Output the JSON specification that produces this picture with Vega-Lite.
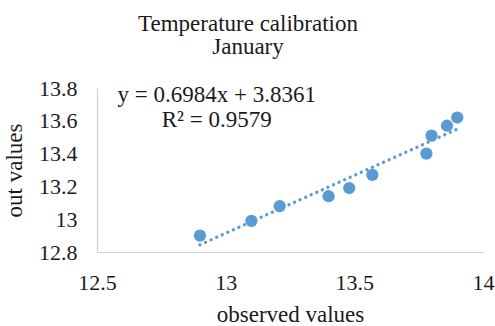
{
  "$schema": "https://vega.github.io/schema/vega-lite/v6.json",
  "width": 386,
  "height": 164,
  "autosize": {"type": "none"},
  "padding": {"left": 97, "top": 88, "right": 12, "bottom": 74},
  "background": "white",
  "config": {
    "view": {"stroke": null},
    "font": "Liberation Serif",
    "axis": {"grid": false, "ticks": false, "domainColor": "#D0D0D0", "domainWidth": 1.2,
      "labelFont": "Liberation Serif", "labelFontSize": 22, "labelColor": "#1a1a1a",
      "titleFont": "Liberation Serif", "titleFontSize": 23, "titleFontWeight": "normal", "titleColor": "#1a1a1a"}
  },
  "title": {
    "text": ["Temperature calibration", "January"],
    "font": "Liberation Serif", "fontSize": 23, "fontWeight": "normal", "color": "#1a1a1a",
    "lineHeight": 23, "anchor": "middle", "dx": -42, "offset": 18
  },
  "data": {"values": [
    {"observed": 12.90, "out": 12.90},
    {"observed": 13.10, "out": 12.99},
    {"observed": 13.21, "out": 13.08},
    {"observed": 13.40, "out": 13.14},
    {"observed": 13.48, "out": 13.19},
    {"observed": 13.57, "out": 13.27},
    {"observed": 13.78, "out": 13.40},
    {"observed": 13.80, "out": 13.51},
    {"observed": 13.86, "out": 13.57},
    {"observed": 13.90, "out": 13.62}
  ]},
  "encoding": {
    "x": {"field": "observed", "type": "quantitative",
      "scale": {"domain": [12.5, 14], "nice": false, "zero": false},
      "axis": {"title": "observed values", "values": [12.5, 13, 13.5, 14], "format": "~g",
        "labelFont": "Liberation Serif", "titleFont": "Liberation Serif",
        "labelOverlap": false, "labelPadding": 20, "titlePadding": 10, "labelFlush": false}},
    "y": {"field": "out", "type": "quantitative",
      "scale": {"domain": [12.8, 13.8], "nice": false, "zero": false},
      "axis": {"title": "out values", "values": [12.8, 13, 13.2, 13.4, 13.6, 13.8], "format": "~g",
        "labelFont": "Liberation Serif", "titleFont": "Liberation Serif",
        "labelOverlap": false, "labelPadding": 20, "titlePadding": 12, "labelFlush": false}}
  },
  "layer": [
    {
      "transform": [{"regression": "out", "on": "observed"}],
      "mark": {"type": "line", "color": "#5B9BD5", "strokeWidth": 3.2, "strokeDash": [0.1, 6], "strokeCap": "round"}
    },
    {
      "mark": {"type": "circle", "color": "#5B9BD5", "opacity": 1, "size": 150}
    },
    {
      "data": {"values": [
        {"observed": 12.965, "out": 13.715, "label": "y = 0.6984x + 3.8361"},
        {"observed": 12.965, "out": 13.565, "label": "R² = 0.9579"}
      ]},
      "mark": {"type": "text", "font": "Liberation Serif", "fontSize": 23, "align": "center", "baseline": "alphabetic", "color": "#1a1a1a"},
      "encoding": {
        "text": {"field": "label"}
      }
    }
  ]
}
